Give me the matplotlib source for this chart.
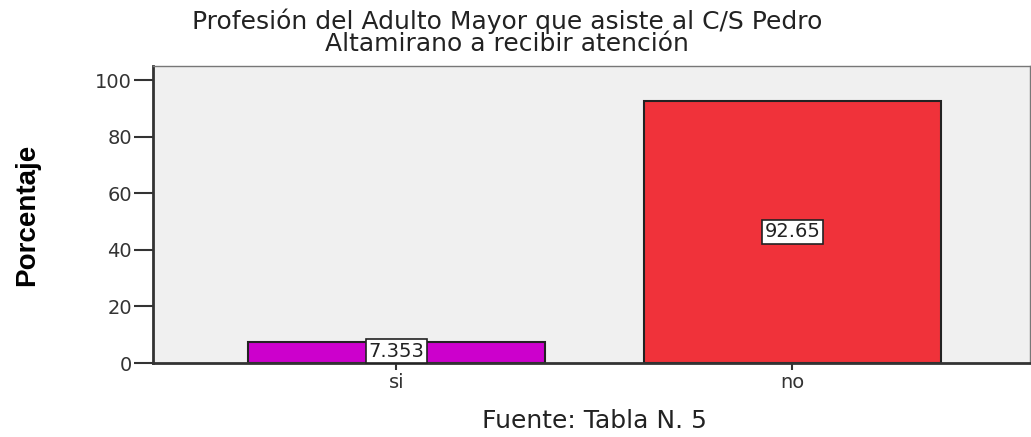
import numpy as np
import matplotlib.pyplot as plt

# Datos del grafico
categorias = ['si', 'no']
porcentajes = [7.353, 92.65]
etiquetas = ['7.353', '92.65']
colores = ['#cc00cc', '#f0323a']

plt.rcParams['font.family'] = ['DejaVu Sans']

fig = plt.figure(figsize=(10.31, 4.37), dpi=100)
ax = fig.add_axes([0.1484, 0.1693, 0.8506, 0.6796])
ax.set_facecolor('#f0f0f0')

x = np.arange(len(categorias))
barras = ax.bar(x, porcentajes, width=0.75, color=colores, edgecolor='#222222', linewidth=1.5)

# Etiquetas de valor en el centro de cada barra
for xi, v, t in zip(x, porcentajes, etiquetas):
    ax.text(xi, v / 2 if v > 20 else 4.2, t, ha='center', va='center', fontsize=14, color='#222222',
            bbox=dict(boxstyle='square,pad=0.12', facecolor='white', edgecolor='#222222', linewidth=1.2))

ax.set_xlim(-0.615, 1.6)
ax.set_ylim(0, 105)
ax.set_yticks([0, 20, 40, 60, 80, 100])
ax.set_xticks(x)
ax.set_xticklabels(categorias)
ax.tick_params(axis='y', length=14, width=1.5, labelsize=14, pad=1, colors='#333333')
ax.tick_params(axis='x', length=5, width=1.5, labelsize=14, pad=2, colors='#333333')

for lado in ['left', 'bottom']:
    ax.spines[lado].set_linewidth(2)
    ax.spines[lado].set_color('#333333')
for lado in ['top', 'right']:
    ax.spines[lado].set_linewidth(1)
    ax.spines[lado].set_color('#777777')

ax.set_ylabel('Porcentaje', fontsize=20, fontweight='bold', labelpad=40,
              family=['Liberation Sans', 'DejaVu Sans'])

fig.text(0.492, 0.98, 'Profesión del Adulto Mayor que asiste al C/S Pedro\nAltamirano a recibir atención',
         ha='center', va='top', fontsize=18, color='#222222', linespacing=0.9)
fig.text(0.577, 0.01, 'Fuente: Tabla N. 5', ha='center', va='bottom', fontsize=18, color='#222222')

fig.savefig('out.png', dpi=100)
